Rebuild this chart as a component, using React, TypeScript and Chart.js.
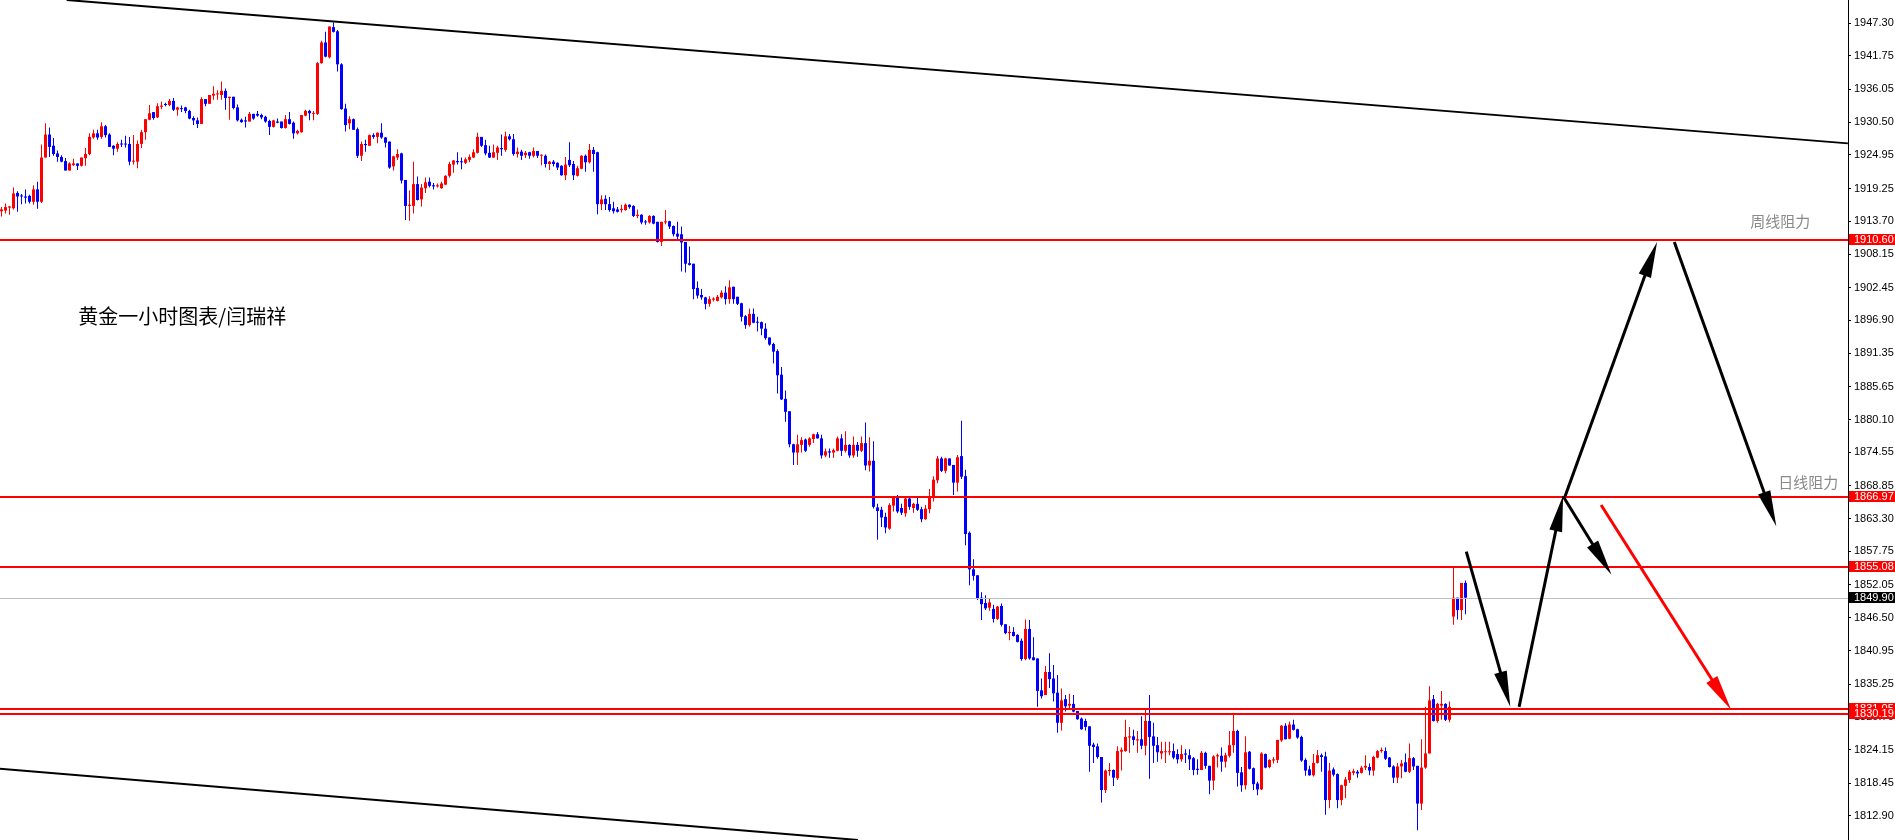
import React, { useEffect, useRef } from "react";
import { Chart, registerables } from "chart.js";

Chart.register(...registerables);

// ---- hourly gold candles (oldest -> newest) ----
const opens = [
  1915.4,1915.5,1916.0,1915.9,1918.5,1918.0,1917.9,1918.0,1917.0,1919.1,
  1917.0,1924.5,1928.4,1926.5,1925.2,1924.6,1923.9,1922.3,1923.2,1923.5,
  1923.1,1924.4,1925.1,1927.9,1928.6,1928.0,1929.8,1928.4,1926.5,1926.0,
  1926.8,1926.8,1926.8,1923.8,1923.8,1926.8,1928.8,1930.9,1932.2,1931.3,
  1933.1,1933.5,1933.4,1934.1,1932.6,1932.8,1933.0,1932.4,1931.2,1930.8,
  1930.2,1934.4,1933.6,1935.0,1935.2,1935.1,1935.8,1934.6,1934.8,1933.0,
  1930.9,1930.8,1930.6,1931.9,1931.9,1931.7,1931.4,1930.7,1929.7,1930.6,
  1930.6,1929.5,1931.0,1930.4,1928.6,1928.8,1931.6,1932.4,1931.9,1931.9,
  1940.5,1944.0,1941.5,1946.6,1945.9,1940.3,1932.8,1930.3,1931.0,1929.3,
  1924.8,1926.8,1926.5,1928.3,1928.0,1928.7,1927.9,1927.2,1923.0,1924.5,
  1925.2,1920.7,1916.3,1916.3,1920.0,1917.4,1919.3,1920.4,1919.8,1919.6,
  1919.3,1919.9,1921.4,1923.3,1923.9,1923.8,1923.6,1924.1,1924.5,1925.3,
  1928.0,1926.6,1925.3,1924.5,1925.3,1926.1,1925.8,1928.1,1927.6,1925.1,
  1925.5,1924.9,1925.4,1924.8,1925.6,1924.8,1924.8,1923.4,1923.8,1923.6,
  1923.1,1921.5,1924.1,1923.4,1921.4,1922.6,1924.8,1923.7,1925.8,1925.4,
  1916.6,1917.5,1916.6,1915.9,1915.7,1915.6,1915.6,1916.5,1916.3,1914.6,
  1914.8,1913.6,1913.5,1914.6,1913.6,1910.2,1913.5,1913.7,1912.9,1911.6,
  1911.5,1910.2,1906.6,1906.5,1902.4,1901.2,1900.8,1899.7,1900.4,1900.2,
  1900.8,1901.6,1900.5,1902.6,1900.9,1899.8,1897.6,1896.1,1898.0,1896.6,
  1896.6,1895.5,1894.0,1892.9,1891.7,1887.7,1883.6,1881.5,1875.9,1874.5,
  1875.8,1876.7,1875.8,1876.8,1877.6,1876.9,1874.0,1874.7,1874.5,1874.8,
  1876.9,1874.8,1875.8,1874.0,1875.8,1874.8,1876.1,1872.3,1873.1,1865.2,
  1864.8,1863.6,1861.6,1865.5,1867.0,1865.1,1864.2,1866.7,1865.1,1865.8,
  1864.9,1863.2,1864.9,1867.0,1869.8,1873.5,1871.4,1873.5,1872.4,1869.4,
  1873.9,1870.5,1860.9,1854.7,1853.7,1849.9,1849.0,1848.2,1848.0,1846.3,
  1848.5,1845.4,1843.9,1844.1,1843.6,1842.6,1839.5,1844.6,1839.8,1839.6,
  1834.2,1833.4,1837.3,1836.2,1833.8,1828.7,1832.7,1831.6,1831.9,1830.7,
  1829.4,1829.0,1828.1,1825.0,1824.7,1822.9,1817.3,1820.5,1820.7,1819.3,
  1823.8,1823.9,1826.2,1826.4,1825.7,1825.9,1824.8,1829.0,1826.4,1824.9,
  1823.5,1823.7,1823.7,1823.9,1823.4,1822.5,1823.5,1823.2,1822.7,1820.9,
  1820.7,1823.6,1821.4,1818.9,1823.0,1823.1,1822.1,1823.1,1824.9,1827.3,
  1820.3,1818.1,1823.8,1821.0,1818.4,1817.4,1823.4,1821.2,1822.3,1822.4,
  1825.7,1828.2,1826.0,1828.4,1827.6,1826.3,1822.4,1820.8,1819.8,1821.9,
  1823.2,1823.0,1815.6,1820.8,1820.0,1815.6,1818.0,1819.0,1820.2,1820.4,
  1820.2,1821.1,1821.2,1820.6,1822.8,1823.9,1823.9,1822.8,1821.3,1819.4,
  1821.3,1822.0,1820.4,1822.7,1821.4,1815.0,1821.1,1823.5,1832.7,1829.0,
  1831.6,1831.9,1829.2,1846.7,1849.9,1847.8,1852.4,
];
const highs = [
  1916.1,1916.7,1916.3,1919.4,1918.8,1918.3,1919.1,1918.2,1919.8,1920.4,
  1926.7,1930.3,1929.6,1927.8,1925.7,1924.9,1924.4,1923.7,1924.3,1923.5,
  1924.5,1926.1,1928.6,1929.2,1929.2,1930.5,1930.0,1928.6,1926.6,1927.1,
  1927.5,1928.2,1928.0,1928.3,1927.4,1929.2,1931.0,1933.4,1932.2,1933.7,
  1934.0,1933.8,1934.4,1934.6,1933.1,1933.3,1933.1,1932.6,1931.5,1931.3,
  1934.7,1934.4,1935.1,1936.6,1935.9,1937.4,1936.2,1934.8,1934.8,1933.5,
  1931.1,1931.4,1932.2,1931.9,1932.4,1931.9,1931.6,1930.9,1930.9,1931.1,
  1930.6,1931.7,1932.2,1930.6,1929.2,1931.7,1932.6,1932.6,1932.4,1940.7,
  1944.3,1945.8,1946.7,1947.4,1946.1,1940.5,1933.6,1931.5,1931.1,1929.6,
  1927.2,1927.5,1928.4,1928.6,1928.8,1930.3,1928.0,1927.2,1924.8,1925.9,
  1925.3,1920.7,1918.9,1923.8,1921.3,1920.0,1921.1,1921.1,1920.2,1920.1,
  1920.4,1921.5,1923.8,1924.1,1925.4,1924.5,1924.5,1925.0,1925.9,1928.7,
  1928.0,1927.5,1926.5,1926.7,1926.5,1928.4,1928.9,1928.5,1928.5,1926.2,
  1925.8,1925.6,1925.5,1926.2,1925.6,1925.0,1925.0,1923.9,1924.1,1923.7,
  1923.2,1924.6,1927.1,1923.9,1923.1,1924.9,1925.0,1926.8,1926.3,1925.5,
  1918.1,1918.1,1917.8,1917.0,1916.1,1916.5,1916.7,1916.6,1916.4,1915.7,
  1914.9,1913.9,1914.7,1914.7,1913.6,1913.6,1915.6,1913.8,1913.0,1913.6,
  1912.8,1910.2,1909.4,1906.5,1903.5,1902.2,1900.9,1901.0,1900.8,1901.2,
  1902.0,1902.7,1903.7,1902.6,1900.9,1899.9,1897.8,1898.9,1898.9,1897.5,
  1896.7,1896.4,1894.0,1893.1,1892.0,1889.0,1885.0,1881.5,1876.0,1877.5,
  1877.1,1876.9,1877.1,1877.7,1878.0,1877.5,1875.2,1875.2,1875.2,1877.2,
  1877.6,1878.1,1875.9,1877.2,1876.3,1877.2,1879.6,1877.1,1876.4,1865.8,
  1865.3,1864.3,1865.9,1867.0,1867.3,1865.8,1866.8,1867.0,1866.0,1867.0,
  1865.3,1865.6,1868.3,1870.5,1873.9,1873.8,1873.6,1873.5,1872.4,1874.1,
  1879.9,1871.6,1861.1,1856.4,1853.7,1850.8,1850.3,1849.8,1848.7,1848.5,
  1848.9,1845.4,1845.1,1844.9,1843.7,1843.0,1846.2,1846.1,1843.2,1839.6,
  1836.2,1838.3,1840.5,1838.5,1836.8,1834.5,1833.4,1833.6,1833.4,1830.7,
  1829.6,1829.4,1828.1,1825.3,1825.2,1822.9,1820.8,1821.9,1820.8,1824.7,
  1824.5,1829.2,1828.0,1827.5,1827.3,1829.8,1831.2,1833.4,1828.7,1826.3,
  1825.5,1825.5,1825.5,1825.2,1824.2,1824.9,1824.2,1824.2,1822.9,1822.5,
  1823.9,1823.8,1821.4,1823.2,1823.5,1824.5,1823.6,1827.3,1830.3,1827.5,
  1821.2,1826.4,1823.9,1821.1,1818.7,1823.7,1823.5,1822.5,1822.9,1825.8,
  1828.3,1828.6,1828.9,1829.2,1827.7,1826.5,1822.7,1821.4,1823.4,1824.1,
  1823.5,1823.8,1821.9,1821.1,1820.1,1818.2,1819.5,1820.7,1820.9,1820.7,
  1821.4,1823.2,1821.8,1823.1,1824.1,1824.5,1824.5,1822.9,1821.5,1821.9,
  1822.4,1823.5,1825.2,1822.9,1821.4,1825.9,1831.4,1834.9,1833.4,1832.1,
  1834.1,1832.0,1832.3,1855.0,1849.9,1852.4,1852.8,
];
const lows = [
  1914.5,1915.0,1914.8,1915.7,1915.3,1916.6,1916.7,1916.7,1916.5,1915.8,
  1916.8,1924.5,1924.6,1924.8,1923.8,1923.7,1922.3,1922.3,1923.1,1922.4,
  1923.0,1923.1,1924.9,1927.7,1927.5,1927.7,1927.9,1926.3,1924.9,1925.5,
  1926.3,1926.2,1923.2,1923.3,1922.7,1926.1,1927.5,1930.8,1930.9,1931.2,
  1932.7,1933.2,1933.2,1932.4,1931.6,1932.2,1932.0,1931.0,1930.0,1929.5,
  1930.2,1933.2,1933.6,1934.3,1934.3,1934.3,1932.6,1930.9,1932.7,1930.6,
  1930.4,1929.6,1930.6,1930.9,1931.4,1931.0,1930.4,1928.3,1929.6,1930.3,
  1929.4,1929.4,1930.1,1927.7,1928.4,1928.7,1931.5,1930.8,1930.8,1931.7,
  1940.4,1941.5,1941.3,1945.7,1939.1,1932.6,1928.9,1929.3,1929.2,1924.4,
  1923.9,1925.5,1926.5,1927.7,1926.9,1927.7,1926.2,1922.6,1922.3,1924.1,
  1920.1,1913.9,1913.8,1915.0,1917.2,1916.2,1918.5,1919.4,1919.1,1919.4,
  1919.2,1919.9,1921.1,1921.9,1923.3,1922.5,1923.4,1923.7,1924.4,1925.2,
  1926.3,1924.9,1924.4,1924.4,1924.1,1924.8,1925.5,1927.4,1924.8,1924.5,
  1924.1,1924.4,1924.3,1924.5,1924.4,1923.2,1922.8,1922.4,1923.0,1922.4,
  1921.4,1920.7,1922.9,1920.7,1921.3,1922.5,1922.1,1923.5,1922.1,1914.9,
  1915.6,1915.6,1915.3,1915.0,1915.2,1915.2,1915.5,1915.8,1914.4,1914.2,
  1913.2,1913.1,1913.3,1913.2,1910.1,1909.5,1913.2,1912.4,1911.1,1910.6,
  1905.2,1905.0,1906.2,1900.5,1900.6,1900.4,1898.8,1899.2,1900.1,1900.1,
  1900.6,1899.6,1899.7,1899.7,1899.5,1896.7,1895.5,1895.8,1896.4,1895.0,
  1894.4,1893.6,1892.6,1889.6,1884.5,1883.4,1879.7,1875.4,1872.4,1872.4,
  1874.5,1874.6,1875.5,1876.1,1876.9,1873.5,1873.7,1873.6,1873.6,1874.7,
  1873.9,1874.5,1873.6,1873.6,1873.8,1874.6,1871.5,1871.3,1865.0,1859.7,
  1861.9,1860.8,1861.4,1864.5,1864.2,1863.9,1863.6,1864.8,1864.3,1864.6,
  1862.7,1863.1,1864.2,1866.2,1869.3,1871.2,1871.0,1872.3,1867.3,1867.9,
  1870.0,1858.8,1852.0,1852.8,1849.5,1846.1,1847.8,1847.7,1845.7,1846.1,
  1845.0,1843.7,1842.7,1843.3,1842.3,1839.2,1839.3,1839.4,1839.3,1831.4,
  1832.8,1833.4,1834.6,1832.3,1827.0,1827.4,1830.6,1831.0,1830.5,1829.2,
  1827.5,1827.4,1820.4,1821.9,1822.6,1815.2,1816.8,1819.7,1818.0,1819.0,
  1820.6,1823.8,1823.6,1824.9,1823.6,1824.2,1823.2,1819.2,1821.9,1822.1,
  1822.5,1821.9,1823.2,1822.5,1821.8,1822.1,1821.9,1820.7,1819.8,1819.9,
  1820.7,1820.9,1816.6,1817.3,1821.1,1820.4,1821.1,1822.8,1823.6,1817.9,
  1817.0,1817.4,1820.8,1817.3,1816.4,1817.3,1821.0,1821.0,1821.8,1821.9,
  1825.5,1825.9,1825.9,1827.4,1826.0,1822.1,1819.7,1819.7,1819.6,1821.8,
  1820.4,1813.1,1814.2,1819.6,1814.2,1814.7,1815.9,1818.5,1819.8,1819.4,
  1820.1,1820.7,1819.8,1819.7,1822.7,1823.6,1822.4,1821.1,1818.5,1818.5,
  1819.3,1820.3,1820.2,1820.7,1810.5,1813.9,1820.9,1823.5,1828.9,1828.7,
  1829.2,1829.0,1828.8,1845.3,1846.2,1846.1,1847.1,
];
const closes = [
  1915.7,1916.1,1916.2,1918.4,1917.9,1917.9,1917.7,1917.0,1919.1,1917.0,
  1924.5,1928.4,1926.3,1925.1,1924.6,1923.8,1922.3,1923.5,1923.5,1923.1,
  1924.5,1925.1,1928.0,1928.6,1927.9,1929.8,1928.3,1926.3,1926.0,1926.8,
  1926.7,1926.7,1923.8,1923.9,1926.8,1928.8,1931.0,1932.0,1931.2,1933.2,
  1933.3,1933.4,1934.1,1932.6,1933.0,1932.7,1932.4,1931.1,1930.8,1930.2,
  1934.4,1933.6,1935.1,1935.3,1935.3,1935.8,1934.6,1934.8,1932.9,1930.8,
  1930.5,1930.6,1931.9,1931.1,1931.6,1931.3,1930.6,1929.7,1930.8,1930.4,
  1929.5,1931.0,1930.2,1928.6,1929.0,1931.7,1932.4,1932.0,1932.0,1940.5,
  1944.0,1941.6,1946.7,1945.8,1940.3,1932.7,1930.0,1931.0,1929.2,1924.8,
  1926.8,1926.6,1928.3,1928.0,1928.7,1927.9,1927.0,1922.8,1924.7,1925.1,
  1920.6,1916.3,1916.5,1920.0,1917.3,1919.4,1920.3,1919.7,1919.6,1919.8,
  1920.1,1921.4,1923.4,1924.0,1923.7,1923.7,1924.2,1924.6,1925.4,1928.0,
  1926.5,1925.2,1924.5,1925.4,1926.2,1925.9,1928.1,1927.6,1925.1,1925.5,
  1924.8,1925.3,1924.8,1925.6,1924.8,1924.9,1923.4,1923.8,1923.4,1922.8,
  1921.5,1923.3,1923.2,1921.5,1922.7,1924.8,1923.7,1925.8,1925.1,1916.6,
  1917.4,1916.6,1915.6,1915.4,1915.3,1915.8,1916.5,1916.1,1914.6,1914.8,
  1913.5,1913.5,1914.6,1913.3,1910.2,1913.6,1913.7,1912.8,1911.5,1911.1,
  1910.1,1906.5,1906.3,1902.2,1901.1,1900.8,1899.7,1900.5,1900.6,1900.9,
  1901.6,1900.5,1902.5,1900.5,1899.7,1897.5,1896.1,1898.0,1896.5,1896.5,
  1895.5,1893.9,1892.8,1891.6,1887.6,1883.5,1881.4,1875.9,1874.5,1875.9,
  1876.6,1874.8,1876.9,1877.6,1876.9,1874.0,1874.7,1874.5,1874.9,1876.9,
  1874.8,1875.8,1874.0,1875.8,1874.8,1876.1,1872.3,1873.1,1865.3,1864.6,
  1863.5,1861.8,1865.6,1867.0,1864.5,1864.3,1866.7,1865.3,1865.8,1864.8,
  1863.2,1865.0,1867.1,1869.9,1873.5,1871.4,1873.5,1872.3,1869.4,1873.7,
  1870.4,1860.7,1854.7,1853.6,1849.8,1848.8,1848.1,1849.1,1846.3,1848.4,
  1845.3,1843.9,1844.1,1843.4,1842.4,1839.5,1844.6,1839.6,1839.3,1834.1,
  1833.2,1837.3,1836.1,1833.7,1828.7,1832.5,1831.5,1831.9,1830.6,1829.3,
  1827.6,1828.0,1824.8,1824.6,1822.9,1817.3,1820.6,1820.7,1819.4,1823.9,
  1824.1,1826.3,1826.4,1825.8,1825.9,1824.8,1829.0,1826.3,1824.8,1823.7,
  1823.9,1823.8,1823.8,1822.8,1822.5,1823.4,1823.3,1822.5,1820.7,1820.7,
  1823.6,1821.4,1818.9,1823.0,1823.2,1822.1,1823.2,1824.9,1827.3,1820.2,
  1818.1,1823.7,1820.9,1818.3,1817.4,1823.5,1821.1,1822.4,1822.5,1825.8,
  1828.2,1825.9,1828.4,1827.5,1826.2,1822.3,1820.6,1819.8,1821.9,1823.2,
  1822.9,1815.6,1820.6,1819.9,1815.6,1818.1,1819.1,1820.4,1820.5,1820.1,
  1821.1,1821.4,1820.6,1822.9,1823.9,1824.1,1822.6,1821.2,1819.4,1821.3,
  1821.8,1820.4,1822.7,1821.3,1815.0,1821.1,1823.5,1832.5,1829.0,1831.9,
  1831.9,1829.2,1831.4,1849.9,1847.8,1852.4,1849.9,
];

// ---- price axis ----
const priceTicks = [
  1947.30,1941.75,1936.05,1930.50,1924.95,1919.25,1913.70,1908.15,1902.45,
  1896.90,1891.35,1885.65,1880.10,1874.55,1868.85,1863.30,1857.75,1852.05,
  1846.50,1840.95,1835.25,1829.70,1824.15,1818.45,1812.90,
];
const priceMin = 1808.83;
const priceMax = 1951.2;
const barMin = -0.375;
const barMax = 461.625;

// ---- horizontal levels ----
const levelLines = [1910.60, 1866.97, 1855.08, 1831.05, 1830.19];
const lastPrice = 1849.90;

// ---- drawn objects (bar index, price) ----
const channelLines = [
  { from: [16.3, 1951.2], to: [461.6, 1926.9] },
  { from: [-0.375, 1820.9], to: [214.1, 1808.83] },
];
const arrows = [
  { from: [366.2, 1857.7], to: [377.2, 1831.4], color: "#000000" },
  { from: [379.4, 1831.4], to: [390.4, 1867.2], color: "#000000" },
  { from: [390.4, 1867.1], to: [402.5, 1853.8], color: "#000000" },
  { from: [390.9, 1867.1], to: [413.9, 1910.2], color: "#000000" },
  { from: [418.2, 1910.2], to: [443.7, 1862.0], color: "#000000" },
  { from: [399.9, 1865.6], to: [432.4, 1830.9], color: "#ff0000" },
];
const notes = [
  { text: "黄金一小时图表/闫瑞祥", at: [19.2, 1897.5], size: 20, color: "#000000" },
  { text: "周线阻力", at: [437.2, 1913.7], size: 15, color: "#8a8a8a" },
  { text: "日线阻力", at: [444.2, 1869.5], size: 15, color: "#8a8a8a" },
];

const UP = "#ff0000";
const DOWN = "#0000ff";

const overlayPlugin = {
  id: "overlay",
  afterDatasetsDraw(chart: any) {
    const { ctx, chartArea: a, scales } = chart;
    const x = scales.x;
    const y = scales.y;
    ctx.save();
    ctx.beginPath();
    ctx.rect(a.left, a.top, a.right - a.left, a.bottom - a.top);
    ctx.clip();

    // last price line
    const ly = Math.round(y.getPixelForValue(lastPrice)) + 0.5;
    ctx.strokeStyle = "#c0c0c0";
    ctx.lineWidth = 1;
    ctx.beginPath();
    ctx.moveTo(a.left, ly);
    ctx.lineTo(a.right, ly);
    ctx.stroke();

    // support / resistance levels
    ctx.strokeStyle = "#ff0000";
    ctx.lineWidth = 2;
    levelLines.forEach((v) => {
      const py = Math.round(y.getPixelForValue(v));
      ctx.beginPath();
      ctx.moveTo(a.left, py);
      ctx.lineTo(a.right, py);
      ctx.stroke();
    });

    // channel lines
    ctx.strokeStyle = "#000000";
    ctx.lineWidth = 2;
    channelLines.forEach((l) => {
      ctx.beginPath();
      ctx.moveTo(x.getPixelForValue(l.from[0]), y.getPixelForValue(l.from[1]));
      ctx.lineTo(x.getPixelForValue(l.to[0]), y.getPixelForValue(l.to[1]));
      ctx.stroke();
    });

    // arrows
    arrows.forEach((ar) => {
      const x1 = x.getPixelForValue(ar.from[0]);
      const y1 = y.getPixelForValue(ar.from[1]);
      const x2 = x.getPixelForValue(ar.to[0]);
      const y2 = y.getPixelForValue(ar.to[1]);
      const dx = x2 - x1;
      const dy = y2 - y1;
      const len = Math.hypot(dx, dy);
      const ux = dx / len;
      const uy = dy / len;
      const headLen = 36;
      const headW = 6.5;
      const bx = x2 - ux * headLen;
      const by = y2 - uy * headLen;
      ctx.strokeStyle = ar.color;
      ctx.fillStyle = ar.color;
      ctx.lineWidth = 3;
      ctx.beginPath();
      ctx.moveTo(x1, y1);
      ctx.lineTo(bx + ux * 4, by + uy * 4);
      ctx.stroke();
      ctx.beginPath();
      ctx.moveTo(x2, y2);
      ctx.lineTo(bx - uy * headW, by + ux * headW);
      ctx.lineTo(bx + uy * headW, by - ux * headW);
      ctx.closePath();
      ctx.fill();
    });

    // text notes
    ctx.textBaseline = "middle";
    ctx.textAlign = "left";
    notes.forEach((n) => {
      ctx.font = `${n.size}px "Noto Sans CJK SC", "Noto Sans", sans-serif`;
      ctx.fillStyle = n.color;
      ctx.fillText(n.text, x.getPixelForValue(n.at[0]), y.getPixelForValue(n.at[1]));
    });
    ctx.restore();
  },
  afterDraw(chart: any) {
    const { ctx, scales } = chart;
    const y = scales.y;
    const tags = [
      { v: levelLines[0], bg: "#ff0000" },
      { v: levelLines[1], bg: "#ff0000" },
      { v: levelLines[2], bg: "#ff0000" },
      { v: lastPrice, bg: "#000000" },
      { v: levelLines[3], bg: "#ff0000" },
      { v: levelLines[4], bg: "#ff0000" },
    ];
    ctx.save();
    ctx.font = '11px "Liberation Sans", Arial, sans-serif';
    ctx.textBaseline = "middle";
    ctx.textAlign = "left";
    tags.forEach((t) => {
      const py = Math.round(y.getPixelForValue(t.v));
      const left = Math.round(y.left) + 1;
      ctx.fillStyle = t.bg;
      ctx.fillRect(left, py - 6, 46, 11);
      ctx.fillStyle = "#ffffff";
      ctx.fillText(t.v.toFixed(2), left + 5, py - 0.5);
    });
    ctx.restore();
  },
};

export default function App() {
  const ref = useRef<HTMLCanvasElement | null>(null);

  useEffect(() => {
    document.body.style.margin = "0";
    const canvas = ref.current;
    if (!canvas) return;
    const colors = opens.map((o, i) => (closes[i] >= o ? UP : DOWN));
    const bodies = opens.map((o, i) => ({ x: i, y: [o, closes[i]] }));
    const wicks = opens.map((_, i) => ({ x: i, y: [lows[i], highs[i]] }));

    const chart = new Chart(canvas, {
      type: "bar",
      data: {
        datasets: [
          {
            label: "body",
            data: bodies as any,
            backgroundColor: colors,
            barThickness: 3,
            grouped: false,
            inflateAmount: 0,
            borderWidth: 0,
            minBarLength: 1,
            order: 0,
          } as any,
          {
            label: "wick",
            data: wicks as any,
            backgroundColor: colors,
            barThickness: 1,
            grouped: false,
            inflateAmount: 0,
            borderWidth: 0,
            order: 1,
          } as any,
        ],
      },
      options: {
        animation: false,
        responsive: false,
        devicePixelRatio: 1,
        layout: { padding: 0 },
        plugins: { legend: { display: false }, tooltip: { enabled: false } },
        scales: {
          x: {
            type: "linear",
            display: false,
            min: barMin,
            max: barMax,
            offset: false,
          },
          y: {
            type: "linear",
            position: "right",
            min: priceMin,
            max: priceMax,
            afterBuildTicks: (s: any) => {
              s.ticks = priceTicks.map((v) => ({ value: v }));
            },
            afterFit: (s: any) => {
              s.width = 47;
              s.paddingTop = 0;
              s.paddingBottom = 0;
            },
            grid: {
              drawOnChartArea: false,
              drawTicks: true,
              tickLength: 3,
              tickColor: "#000000",
              color: "#000000",
            },
            border: { display: true, color: "#000000", width: 1 },
            ticks: {
              autoSkip: false,
              padding: 3,
              color: "#000000",
              font: { family: '"Liberation Sans", Arial, sans-serif', size: 11 },
              callback: (v: any) => Number(v).toFixed(2),
            },
          },
        },
      } as any,
      plugins: [overlayPlugin],
    });
    return () => chart.destroy();
  }, []);

  return (
    <canvas
      ref={ref}
      width={1895}
      height={840}
      style={{ display: "block", width: 1895, height: 840 }}
    />
  );
}
